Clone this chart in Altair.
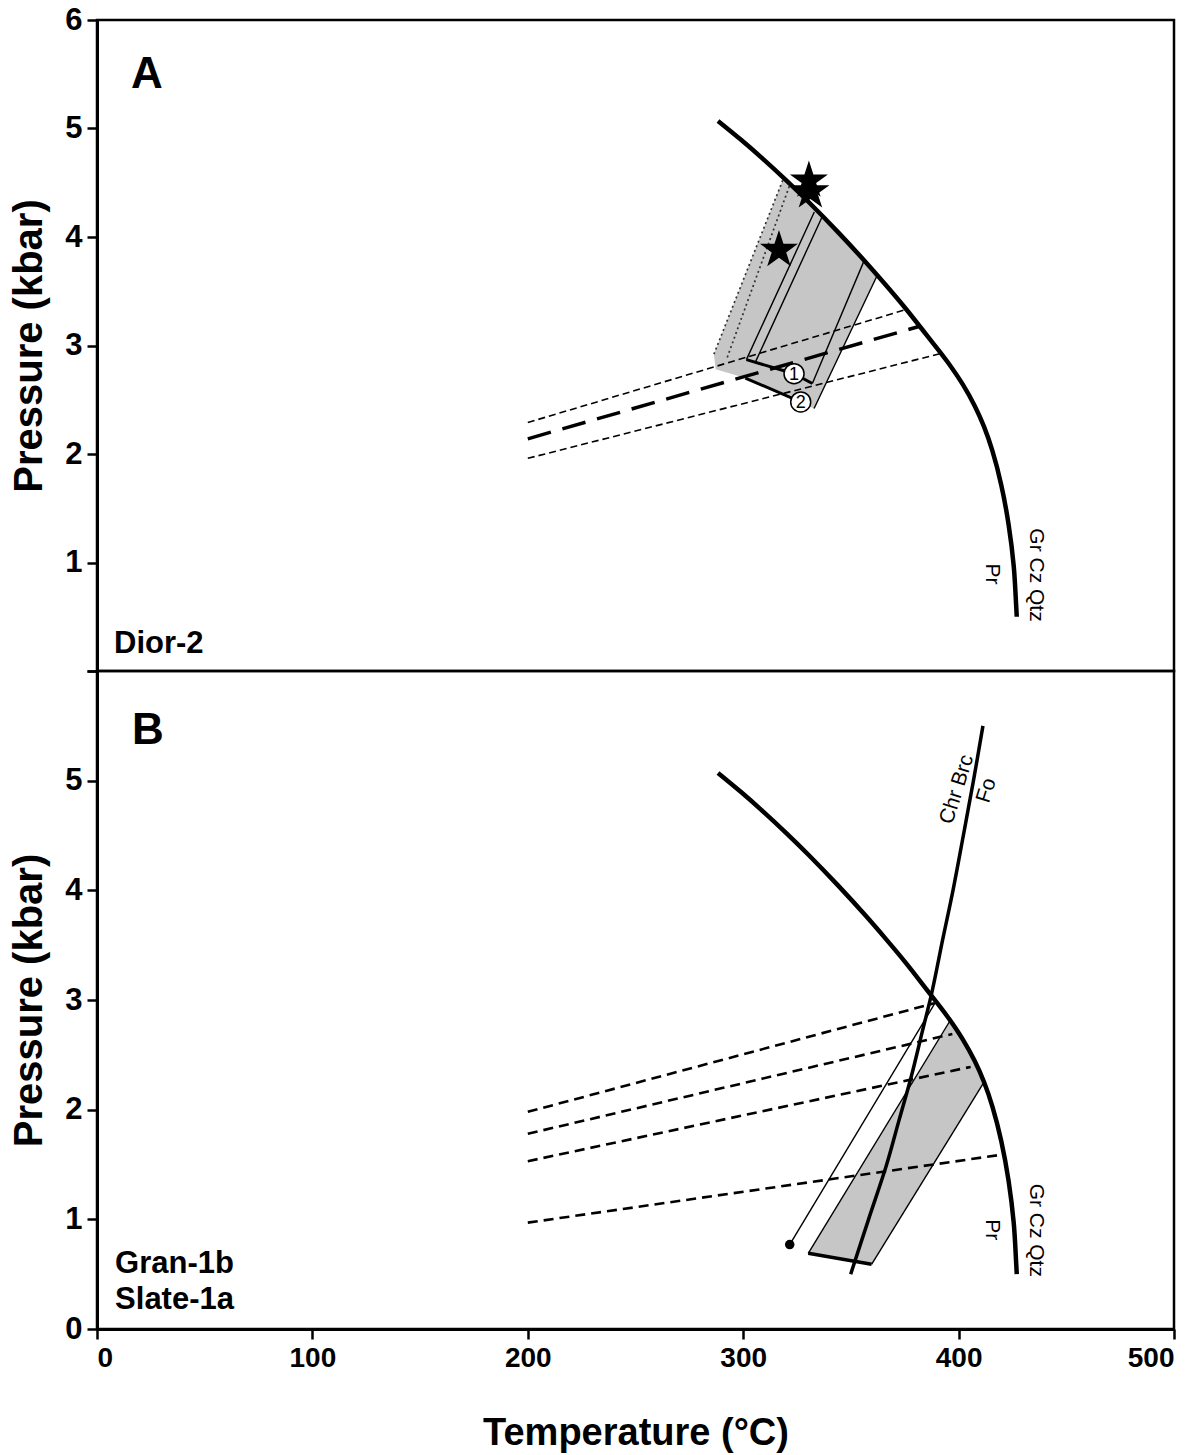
import altair as alt
import pandas as pd

# ----------------------------- data -----------------------------
CURVE_T = [288.3, 299.0, 308.9, 320.0, 330.5, 344.0, 356.8, 366.0, 375.4, 385.0,
           394.8, 402.0, 407.5, 411.8, 415.7, 419.8, 423.2, 425.6, 426.7, 427.0]
CURVE_P = [5.07, 4.896, 4.725, 4.522, 4.32, 4.045, 3.77, 3.562, 3.341, 3.10,
           2.85, 2.639, 2.443, 2.252, 2.028, 1.715, 1.352, 0.966, 0.611, 0.50]

A_GRAY_T = [318.9, 330.5, 344.0, 356.8, 362.3, 332.9, 326.7, 322.0, 301.0, 287.2, 286.4]
A_GRAY_P = [4.55, 4.32, 4.045, 3.77, 3.65, 2.42, 2.47, 2.54, 2.70, 2.78, 2.92]
A_DOT_OUT_T = [286.4, 318.9]
A_DOT_OUT_P = [2.92, 4.55]
A_DOT_IN_T = [292.6, 322.0]
A_DOT_IN_P = [2.89, 4.50]
A_THIN_A_T = [333.0, 301.5]
A_THIN_A_P = [4.23, 2.87]
A_THIN_B_T = [336.5, 305.5]
A_THIN_B_P = [4.18, 2.84]
A_THIN_C_T = [356.1, 332.1]
A_THIN_C_P = [3.78, 2.65]
A_EDGE_T = [362.3, 332.9]
A_EDGE_P = [3.65, 2.42]
A_DASH_UP_T = [200.0, 375.4]
A_DASH_UP_P = [2.29, 3.33]
A_DASH_MID_T = [200.0, 382.4]
A_DASH_MID_P = [2.14, 3.18]
A_DASH_LO_T = [200.0, 392.4]
A_DASH_LO_P = [1.96, 2.93]
A_PATH1_T = [301.5, 323.6, 332.1]
A_PATH1_P = [2.87, 2.74, 2.65]
A_PATH2_T = [301.0, 326.7]
A_PATH2_P = [2.70, 2.48]
A_STAR_T = [330.5, 331.2, 316.6]
A_STAR_P = [4.52, 4.42, 3.88]
A_CIRC_T = [323.6, 326.7]
A_CIRC_P = [2.74, 2.48]
A_CIRC_TXT = ["1", "2"]

CHR_T = [349.9, 358.2, 366.6, 372.3, 378.0, 383.0, 387.6, 392.6, 397.4, 402.2, 406.9, 411.3]
CHR_P = [0.50, 1.00, 1.50, 1.90, 2.30, 2.70, 3.07, 3.55, 4.00, 4.50, 5.00, 5.50]
B_GRAY_T = [330.2, 359.6, 411.8, 407.5, 402.0, 396.3]
B_GRAY_P = [0.69, 0.59, 2.252, 2.443, 2.639, 2.82]
B_LEFT_T = [330.2, 396.3]
B_LEFT_P = [0.69, 2.82]
B_RIGHT_T = [359.6, 411.8]
B_RIGHT_P = [0.59, 2.252]
B_DOTLINE_T = [321.6, 389.3]
B_DOTLINE_P = [0.77, 2.98]
B_BOTTOM_T = [330.2, 359.6]
B_BOTTOM_P = [0.69, 0.59]
B_DASH1_T = [200.0, 388.6]
B_DASH1_P = [1.98, 2.97]
B_DASH2_T = [200.0, 397.1]
B_DASH2_P = [1.78, 2.69]
B_DASH3_T = [200.0, 405.6]
B_DASH3_P = [1.53, 2.39]
B_DASH4_T = [200.0, 420.3]
B_DASH4_P = [0.97, 1.59]
B_DOT_T = [321.6]
B_DOT_P = [0.77]

X_TICKS = [0, 100, 200, 300, 400, 500]
Y_TICKS = [0, 1, 2, 3, 4, 5, 6]

FONT = "Liberation Sans"
# five-pointed star symbol, unit box [-1, 1]
STAR = ("M0,-1L0.225,-0.309L0.951,-0.309L0.363,0.118L0.588,0.809L0,0.382"
        "L-0.588,0.809L-0.363,0.118L-0.951,-0.309L-0.225,-0.309Z")

XSCALE = alt.Scale(domain=[0, 500], nice=False, zero=False)
YSCALE = alt.Scale(domain=[0, 6], nice=False, zero=False)


def long(lines):
    rows = []
    for lid, (ts, ps) in lines.items():
        for i, (t, p) in enumerate(zip(ts, ps)):
            rows.append({"id": lid, "o": i, "T": t, "P": p})
    return pd.DataFrame(rows)


def pts(ts, ps, texts=None):
    d = {"T": ts, "P": ps}
    if texts is not None:
        d["txt"] = texts
    return pd.DataFrame(d)


def xenc(panel):
    if panel == "A":
        return alt.X("T:Q", scale=XSCALE, axis=None)
    return alt.X("T:Q", scale=XSCALE, axis=alt.Axis(
        values=X_TICKS, title="Temperature (°C)", grid=False,
        labelFont=FONT, labelFontSize=28, labelFontWeight="bold", labelColor="black",
        labelPadding=5, tickSize=10, tickWidth=2.5, tickColor="black",
        domainColor="black", domainWidth=3,
        titleFont=FONT, titleFontSize=38, titleFontWeight="bold", titleColor="black",
        titlePadding=42))


def yenc(panel):
    expr = "datum.value == 0 ? '' : datum.label" if panel == "A" else "datum.value == 6 ? '' : datum.label"
    return alt.Y("P:Q", scale=YSCALE, axis=alt.Axis(
        values=Y_TICKS, title="Pressure (kbar)", grid=False, labelExpr=expr,
        labelFont=FONT, labelFontSize=31, labelFontWeight="bold", labelColor="black",
        labelPadding=5, tickSize=10, tickWidth=2.5, tickColor="black",
        domainColor="black", domainWidth=3,
        titleFont=FONT, titleFontSize=40, titleFontWeight="bold", titleColor="black",
        titlePadding=15))


def lines(panel, df, **kw):
    return alt.Chart(df).mark_line(**kw).encode(
        x=xenc(panel), y=yenc(panel), detail="id:N", order="o:Q")


def texts(panel, df, **kw):
    return alt.Chart(df).mark_text(**kw).encode(x=xenc(panel), y=yenc(panel), text="txt:N")


A = "A"
a_layers = [
    lines(A, long({"g": (A_GRAY_T, A_GRAY_P)}), fill="#c6c6c6", strokeOpacity=0),
    lines(A, long({"o": (A_DOT_OUT_T, A_DOT_OUT_P), "i": (A_DOT_IN_T, A_DOT_IN_P)}),
          color="#333333", strokeWidth=1.7, strokeDash=[2, 3]),
    lines(A, long({"a": (A_THIN_A_T, A_THIN_A_P), "b": (A_THIN_B_T, A_THIN_B_P),
                   "c": (A_THIN_C_T, A_THIN_C_P), "e": (A_EDGE_T, A_EDGE_P)}),
          color="black", strokeWidth=1.4),
    lines(A, long({"u": (A_DASH_UP_T, A_DASH_UP_P), "l": (A_DASH_LO_T, A_DASH_LO_P)}),
          color="black", strokeWidth=1.6, strokeDash=[7, 4]),
    lines(A, long({"m": (A_DASH_MID_T, A_DASH_MID_P)}),
          color="black", strokeWidth=3.5, strokeDash=[24, 12]),
    lines(A, long({"p1": (A_PATH1_T, A_PATH1_P), "p2": (A_PATH2_T, A_PATH2_P)}),
          color="black", strokeWidth=3),
    lines(A, long({"curve": (CURVE_T, CURVE_P)}), color="black", strokeWidth=4.5,
          interpolate="catmull-rom"),
    alt.Chart(pts(A_CIRC_T, A_CIRC_P)).mark_point(
        shape="circle", filled=True, fill="white", stroke="black", strokeWidth=1.5,
        size=400, opacity=1).encode(x=xenc(A), y=yenc(A)),
    texts(A, pts(A_CIRC_T, A_CIRC_P, A_CIRC_TXT), font=FONT, fontSize=18, color="black",
          align="center", baseline="middle", dy=1),
    alt.Chart(pts(A_STAR_T, A_STAR_P)).mark_point(
        shape=STAR, filled=True, color="black", size=1600, opacity=1).encode(x=xenc(A), y=yenc(A)),
    texts(A, pts([15.8], [5.37], ["A"]), font=FONT, fontSize=44, fontWeight="bold",
          color="black", align="left", baseline="alphabetic"),
    texts(A, pts([7.9], [0.17], ["Dior-2"]), font=FONT, fontSize=31, fontWeight="bold",
          color="black", align="left", baseline="alphabetic"),
    texts(A, pts([436.1, 415.3], [0.885, 0.895], ["Gr Cz Qtz", "Pr"]), font=FONT, fontSize=21,
          color="black", align="center", baseline="middle", angle=90),
]
panel_a = alt.layer(*a_layers).properties(width=1077, height=651)

B = "B"
b_layers = [
    lines(B, long({"g": (B_GRAY_T, B_GRAY_P)}), fill="#c6c6c6", strokeOpacity=0),
    lines(B, long({"l": (B_LEFT_T, B_LEFT_P), "r": (B_RIGHT_T, B_RIGHT_P),
                   "d": (B_DOTLINE_T, B_DOTLINE_P)}), color="black", strokeWidth=1.4),
    lines(B, long({"1": (B_DASH1_T, B_DASH1_P), "2": (B_DASH2_T, B_DASH2_P),
                   "3": (B_DASH3_T, B_DASH3_P), "4": (B_DASH4_T, B_DASH4_P)}),
          color="black", strokeWidth=2.6, strokeDash=[10, 6]),
    lines(B, long({"bot": (B_BOTTOM_T, B_BOTTOM_P)}), color="black", strokeWidth=3.5),
    lines(B, long({"chr": (CHR_T, CHR_P)}), color="black", strokeWidth=3.5,
          interpolate="catmull-rom"),
    lines(B, long({"curve": (CURVE_T, CURVE_P)}), color="black", strokeWidth=4.5,
          interpolate="catmull-rom"),
    alt.Chart(pts(B_DOT_T, B_DOT_P)).mark_point(
        shape="circle", filled=True, color="black", size=90, opacity=1).encode(x=xenc(B), y=yenc(B)),
    texts(B, pts([16.2], [5.33], ["B"]), font=FONT, fontSize=44, fontWeight="bold",
          color="black", align="left", baseline="alphabetic"),
    texts(B, pts([8.4, 8.4], [0.51, 0.18], ["Gran-1b", "Slate-1a"]), font=FONT, fontSize=31,
          fontWeight="bold", color="black", align="left", baseline="alphabetic"),
    texts(B, pts([436.1, 415.7], [0.90, 0.905], ["Gr Cz Qtz", "Pr"]), font=FONT, fontSize=21,
          color="black", align="center", baseline="middle", angle=90),
    texts(B, pts([399.3, 413.0], [4.92, 4.91], ["Chr Brc", "Fo"]), font=FONT, fontSize=21,
          color="black", align="center", baseline="middle", angle=287.5),
]
panel_b = alt.layer(*b_layers).properties(width=1077, height=658)

chart = alt.vconcat(panel_a, panel_b, spacing=0, bounds="flush").properties(
    padding={"left": 0, "top": -6, "right": 5, "bottom": 0},
).configure_view(stroke="black", strokeWidth=2.5)

chart.save("out.html", embed_options={"renderer": "svg", "actions": False})
